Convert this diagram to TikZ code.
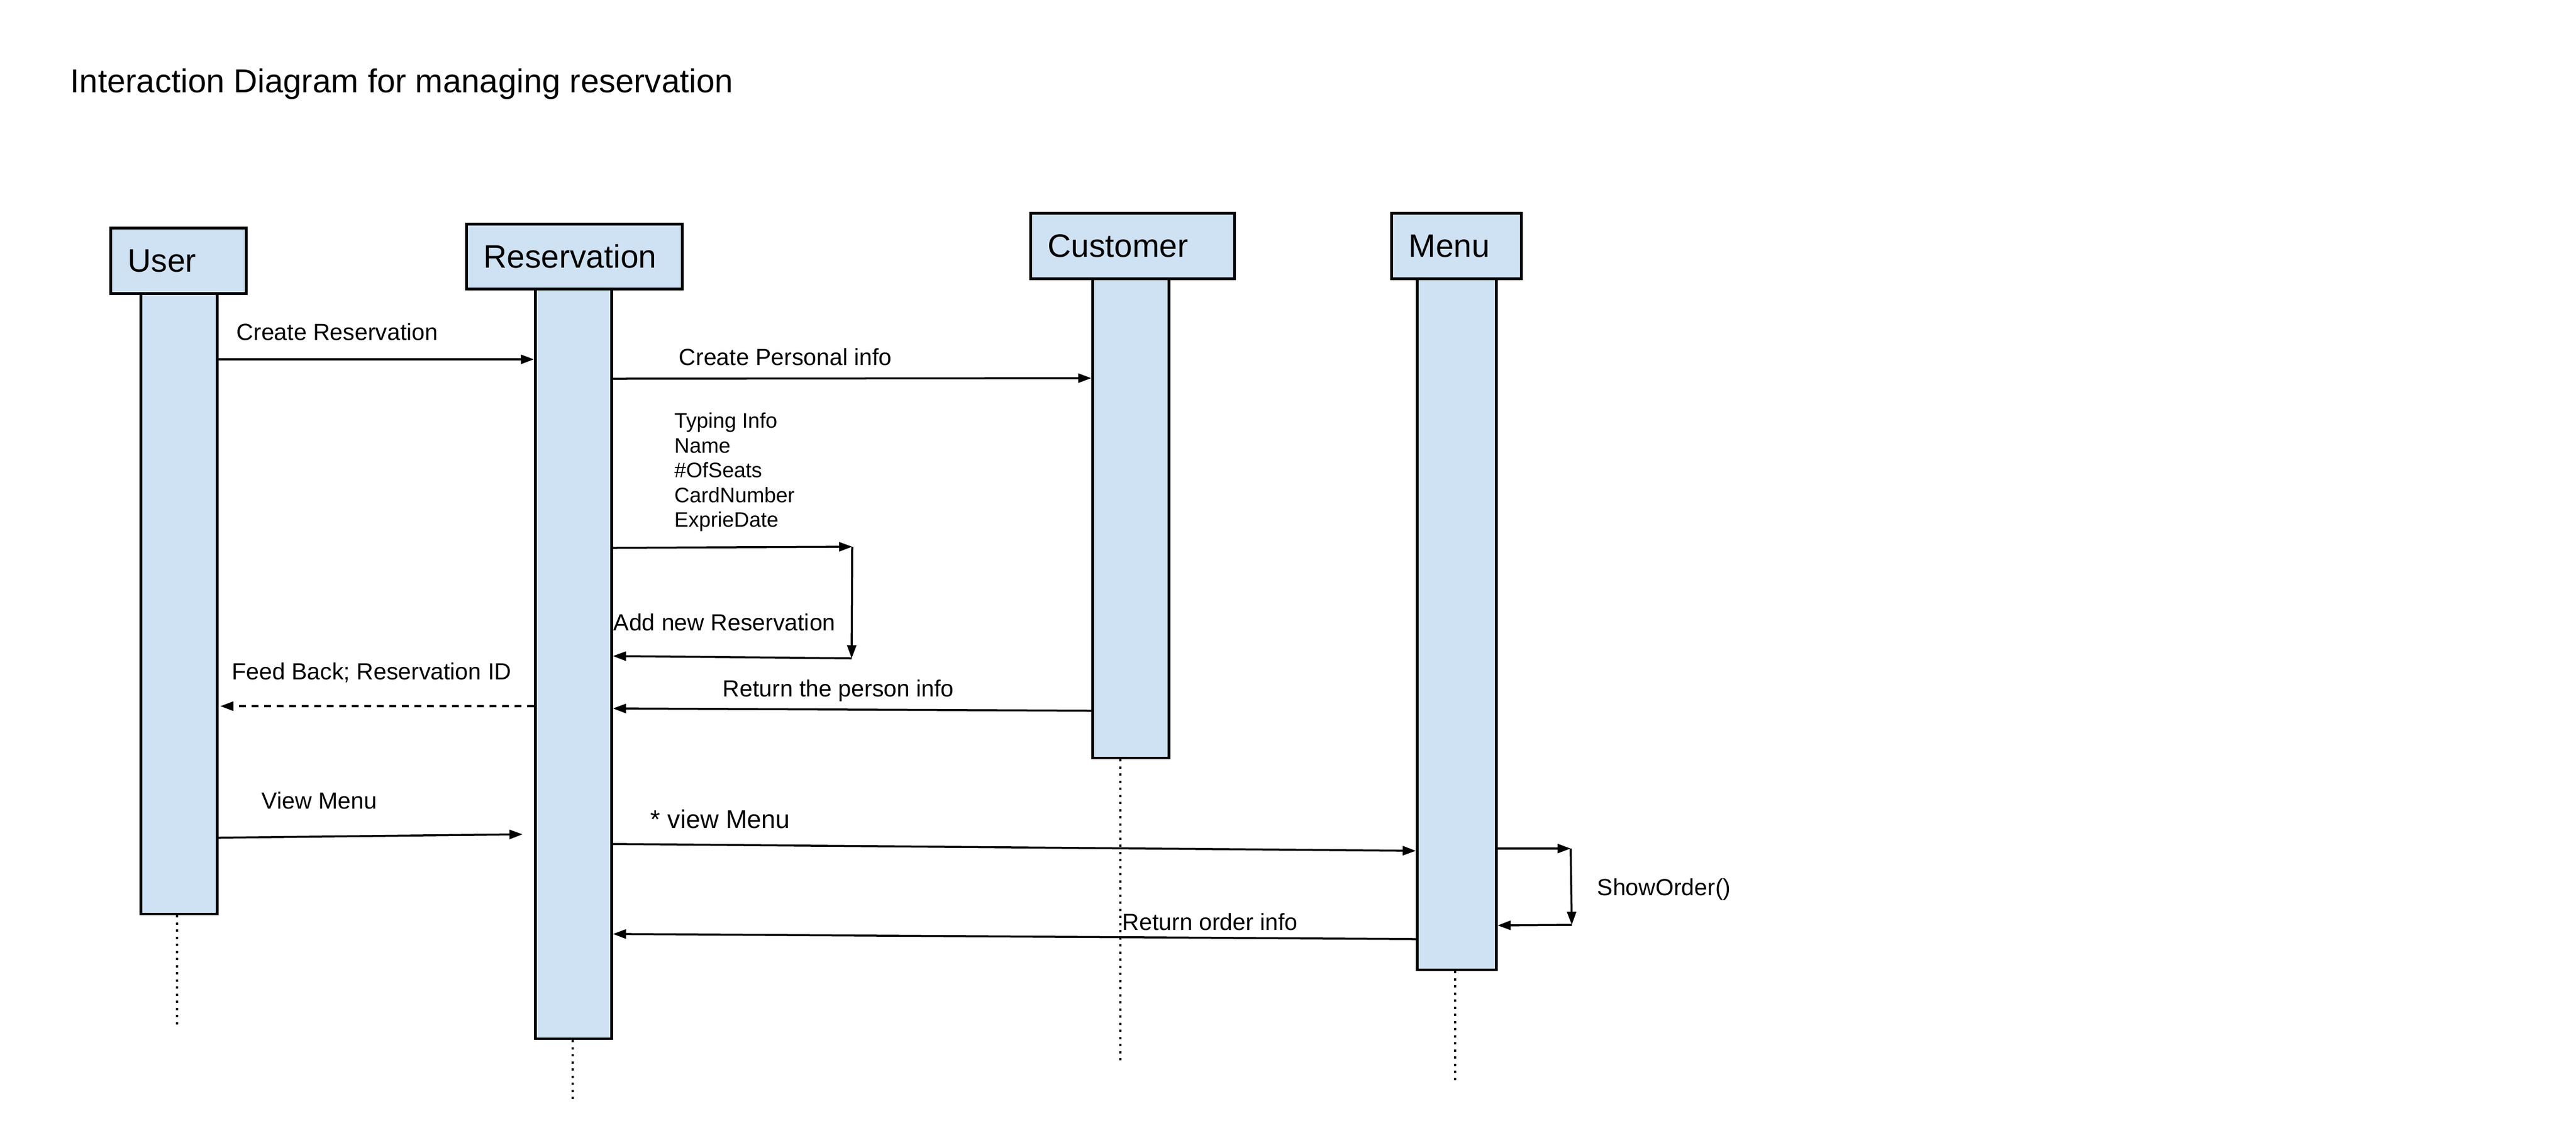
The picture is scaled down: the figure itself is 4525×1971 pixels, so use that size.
\documentclass[tikz,border=0pt]{standalone}
\usepackage{fontspec}
\setmainfont{Liberation Sans}
\usetikzlibrary{arrows.meta}
\definecolor{lifeblue}{HTML}{CFE2F3}
\newcommand\hdfont{\fontsize{16.2pt}{19pt}\selectfont}
\newcommand\lblfont{\fontsize{11.67pt}{14pt}\selectfont}
\newcommand\typfont{\fontsize{10.5pt}{12.4pt}\selectfont}
\newcommand\bigmsgfont{\fontsize{12.8pt}{15pt}\selectfont}
\newcommand\ttlfont{\fontsize{16.5pt}{20pt}\selectfont}
\tikzset{
  head/.style={draw=black, line width=0.05cm, fill=lifeblue, anchor=north west,
    inner xsep=0.3cm, inner ysep=0pt, align=left, font=\hdfont},
  life/.style={draw=black, line width=0.045cm, fill=lifeblue, anchor=north west, inner sep=0pt},
  msg/.style={line width=0.035cm, -{Triangle[length=0.23cm,width=0.16cm]}},
  retmsg/.style={msg, dash pattern=on 0.12cm off 0.1cm},
  lifedots/.style={line width=0.045cm, dash pattern=on 0.04cm off 0.085cm},
  lbl/.style={anchor=base west, inner sep=0pt, font=\lblfont},
}
\begin{document}
\begin{tikzpicture}[x=0.01cm,y=-0.01cm]
\fill[white] (0,0) rectangle (4525,1971);
\useasboundingbox (0,0) rectangle (4525,1971);

\node[anchor=base west, inner sep=0pt, font=\ttlfont] (title) at (123,162) {Interaction Diagram for managing reservation};

% activation bars
\node[life, minimum width=1.34cm, minimum height=10.89cm] (userL) at (245,513) {};
\node[life, minimum width=1.34cm, minimum height=13.16cm] (resL) at (938,505) {};
\node[life, minimum width=1.34cm, minimum height=8.41cm] (custL) at (1917,487) {};
\node[life, minimum width=1.39cm, minimum height=12.13cm] (menuL) at (2487,487) {};

% headers
\node[head, minimum width=2.38cm, minimum height=1.15cm, text width=1.78cm] (user) at (192,398) {User};
\node[head, minimum width=3.79cm, minimum height=1.14cm, text width=3.19cm] (res) at (817,391) {Reservation};
\node[head, minimum width=3.58cm, minimum height=1.15cm, text width=2.98cm] (cust) at (1808,372) {Customer};
\node[head, minimum width=2.28cm, minimum height=1.15cm, text width=1.68cm] (menu) at (2442,372) {Menu};

% dotted lifelines
\coordinate (userEnd) at (311,1806);
\coordinate (resEnd) at (1006,1936);
\coordinate (custEnd) at (1968,1862);
\coordinate (menuEnd) at (2556,1902);
\draw[lifedots] (userL.south -| userEnd) -- (userEnd);
\draw[lifedots] (resL.south -| resEnd) -- (resEnd);
\draw[lifedots] (custL.south -| custEnd) -- (custEnd);
\draw[lifedots] (menuL.south -| menuEnd) -- (menuEnd);

% Create Reservation
\draw[msg] (userL.east |- 0,631) -- (resL.west |- 0,631);
\node[lbl] (l1) at (415,597) {Create Reservation};

% Create Personal info
\draw[msg] (resL.east |- 0,665) -- (custL.west |- 0,664);
\node[lbl] (l2) at (1192,641) {Create Personal info};

% Typing info block
\node[anchor=north west, inner sep=0pt, align=left, font=\typfont] (typing) at (1184,724)
  {Typing Info\\Name\\\#OfSeats\\CardNumber\\ExprieDate};

% self message: Add new Reservation
\coordinate (s1) at (1497,960);
\coordinate (s2) at (1496,1156);
\draw[msg] (resL.east |- 0,962) -- (s1);
\draw[msg] (s1) -- (s2);
\draw[msg] (s2) -- (resL.east |- 0,1152);
\node[lbl] (l3) at (1077,1107) {Add new Reservation};

% Return the person info
\draw[msg] (custL.west |- 0,1248) -- (resL.east |- 0,1244);
\node[lbl] (l4) at (1269,1223) {Return the person info};

% Feed Back
\coordinate (fbEnd) at (387,1240);
\draw[retmsg] (resL.west |- 0,1240) -- (fbEnd);
\node[lbl] (l5) at (407,1193) {Feed Back; Reservation ID};

% View Menu
\coordinate (vmEnd) at (918,1465);
\draw[msg] (userL.east |- 0,1471) -- (vmEnd);
\node[lbl] (l6) at (459,1420) {View Menu};

% * view Menu
\draw[msg] (resL.east |- 0,1482) -- (menuL.west |- 0,1494);
\node[lbl, font=\bigmsgfont] (l7) at (1142,1454) {* view Menu};

% ShowOrder self message
\coordinate (so1) at (2759,1490);
\coordinate (so2) at (2761,1624);
\draw[msg] (menuL.east |- 0,1490) -- (so1);
\draw[msg] (so1) -- (so2);
\draw[msg] (so2) -- (menuL.east |- 0,1625);
\node[lbl] (l8) at (2805,1572) {ShowOrder()};

% Return order info
\draw[msg] (menuL.west |- 0,1649) -- (resL.east |- 0,1640);
\node[lbl] (l9) at (1971,1633) {Return order info};
\end{tikzpicture}
\end{document}
